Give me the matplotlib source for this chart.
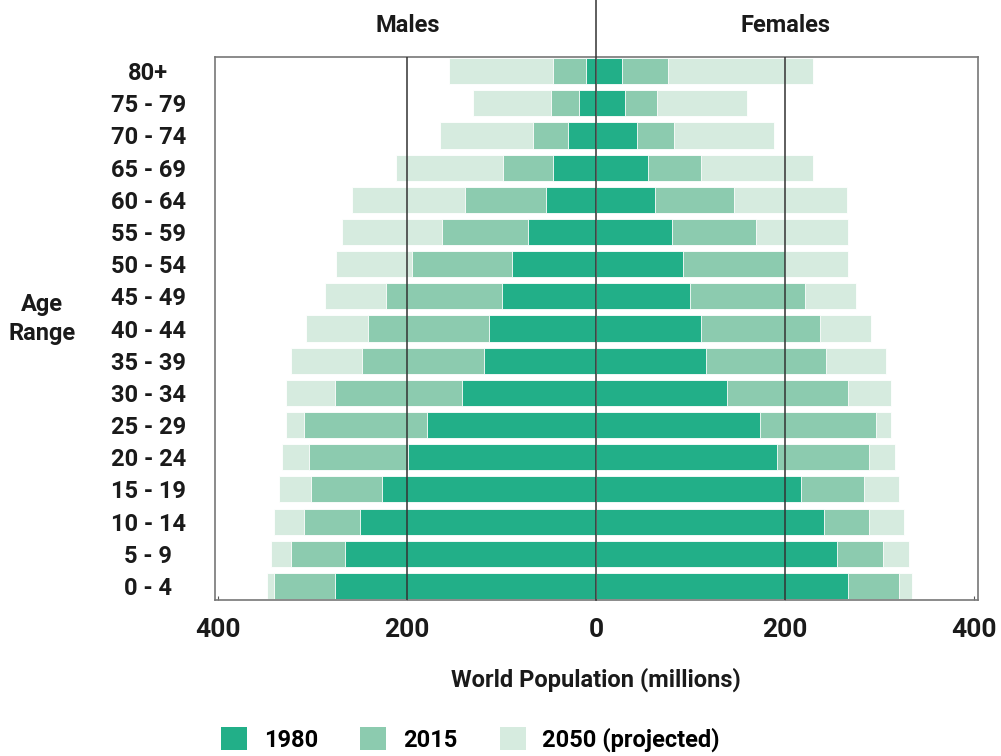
import matplotlib
matplotlib.use('Agg')
import matplotlib.pyplot as plt
from matplotlib.patches import Patch
import numpy as np

plt.rcParams['font.family'] = ['Roboto', 'DejaVu Sans']

# age groups, bottom to top
ages = ['0 - 4', '5 - 9', '10 - 14', '15 - 19', '20 - 24', '25 - 29', '30 - 34',
        '35 - 39', '40 - 44', '45 - 49', '50 - 54', '55 - 59', '60 - 64',
        '65 - 69', '70 - 74', '75 - 79', '80+']

# world population in millions
males_1980 = [276, 265, 250, 226, 199, 179, 142, 118, 113, 99, 89, 72, 53, 45, 30, 18, 11]
males_2015 = [341, 323, 309, 301, 304, 309, 276, 248, 241, 222, 195, 163, 139, 98, 67, 48, 45]
males_2050 = [348, 344, 341, 335, 332, 328, 328, 323, 307, 287, 275, 269, 258, 212, 165, 130, 155]

females_1980 = [266, 255, 241, 217, 191, 173, 139, 116, 111, 99, 92, 80, 62, 55, 43, 31, 27]
females_2015 = [320, 304, 289, 283, 289, 296, 267, 243, 237, 221, 200, 169, 146, 111, 82, 64, 76]
females_2050 = [334, 331, 326, 320, 316, 312, 312, 307, 291, 275, 266, 266, 265, 229, 188, 160, 229]

years = ['1980', '2015', '2050 (projected)']
colors = ['#22af88', '#8ccbaf', '#d6ebdf']
txt = '#1a1a1a'
wt = 'bold'

fig = plt.figure(figsize=(10.01, 7.56), dpi=100)
ax = fig.add_axes([0.2148, 0.2063, 0.7622, 0.7183])

y = np.arange(len(ages))
h = 0.81

# back to front: 2050, 2015, 1980
for m, f, c in [(males_2050, females_2050, colors[2]),
                (males_2015, females_2015, colors[1]),
                (males_1980, females_1980, colors[0])]:
    ax.barh(y, -np.array(m), height=h, color=c, edgecolor='white', linewidth=0.6, zorder=2)
    ax.barh(y, f, height=h, color=c, edgecolor='white', linewidth=0.6, zorder=2)

for gx in [-200, 200]:
    ax.axvline(gx, color='#333333', linewidth=1.1, zorder=3)
# centre line runs up past the frame
ax.plot([0, 0], [-0.44, 18.3], color='#333333', linewidth=1.1, zorder=3, clip_on=False)

ax.set_xlim(-403, 404)
ax.set_ylim(-0.44, 16.44)

ax.set_yticks(y)
ax.set_yticklabels(ages, fontsize=17, weight=wt, color=txt, ha='center')
ax.tick_params(axis='y', length=0, pad=48)

ax.set_xticks([-400, -200, 0, 200, 400])
ax.set_xticklabels(['400', '200', '0', '200', '400'], fontsize=19, weight=wt, color=txt)
ax.tick_params(axis='x', length=3, color='#555555', pad=13, direction='in')

for s in ax.spines.values():
    s.set_color('#777777')
    s.set_linewidth(1.2)

fig.text(0.042, 0.578, 'Age\nRange', fontsize=17, weight=wt, color=txt,
         ha='center', va='center', linespacing=1.3)
fig.text(0.407, 0.966, 'Males', fontsize=17, weight=wt, color=txt, ha='center', va='center')
fig.text(0.785, 0.966, 'Females', fontsize=17, weight=wt, color=txt, ha='center', va='center')
fig.text(0.595, 0.101, 'World Population (millions)', fontsize=17, weight=wt,
         color=txt, ha='center', va='center')

handles = [Patch(facecolor=c, edgecolor='none') for c in colors]
fig.legend(handles, years, loc='center', bbox_to_anchor=(0.47, 0.022), ncol=3, frameon=False,
           prop={'size': 17, 'weight': wt}, handlelength=1.1, handleheight=1.15,
           columnspacing=1.8, handletextpad=0.7)

fig.savefig('out.png', dpi=100)
